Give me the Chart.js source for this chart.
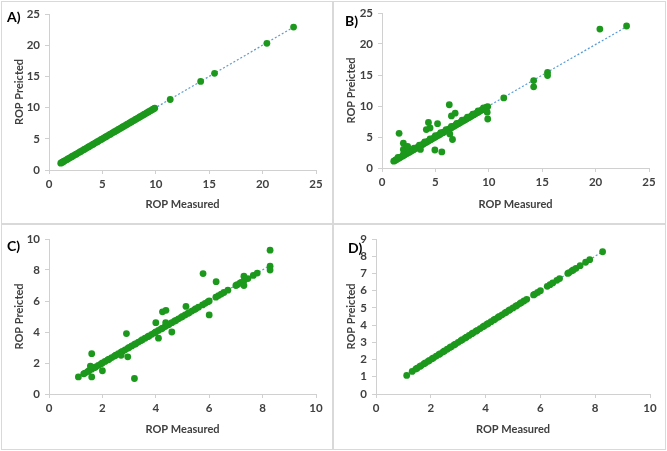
<!DOCTYPE html>
<html>
<head>
<meta charset="utf-8">
<script src="https://cdn.jsdelivr.net/npm/chart.js@4/dist/chart.umd.min.js"></script>
<style>
body { margin: 0; background: #fff; width: 667px; height: 451px; position: relative; overflow: hidden; }
.panel { position: absolute; box-sizing: border-box; border: 1px solid #d9d9d9; }
canvas { position: absolute; }
</style>
</head>
<body>
<div class="panel" style="left:1px;top:1px;width:332px;height:223px"></div>
<div class="panel" style="left:333px;top:1px;width:333px;height:223px"></div>
<div class="panel" style="left:1px;top:224px;width:332px;height:226px"></div>
<div class="panel" style="left:333px;top:224px;width:333px;height:226px"></div>
<canvas id="chartA" width="331" height="222" style="left:1px;top:1px"></canvas>
<canvas id="chartB" width="332" height="222" style="left:333px;top:1px"></canvas>
<canvas id="chartC" width="331" height="225" style="left:1px;top:224px"></canvas>
<canvas id="chartD" width="332" height="225" style="left:333px;top:224px"></canvas>
<script>
// panel A
var measuredA = [1.1, 1.2, 1.3, 1.4, 1.55, 1.7, 1.8, 1.95, 2.1, 2.2, 2.35, 2.5, 2.6, 2.75, 2.9, 3.0, 3.15, 3.3, 3.4, 3.55, 3.7, 3.8, 3.95, 4.1, 4.2, 4.35, 4.5, 4.6, 4.75, 4.9, 5.0, 5.15, 5.3, 5.4, 5.55, 5.7, 5.8, 5.95, 6.1, 6.2, 6.35, 6.5, 6.6, 6.75, 6.9, 7.0, 7.15, 7.3, 7.4, 7.55, 7.7, 7.8, 7.95, 8.1, 8.2, 8.35, 8.5, 8.6, 8.75, 8.9, 9.0, 9.15, 9.3, 9.4, 9.55, 9.7, 9.8, 9.9, 11.35, 14.2, 15.5, 20.4, 22.9];
var predictedA = [1.1, 1.2, 1.3, 1.4, 1.55, 1.7, 1.8, 1.95, 2.1, 2.2, 2.35, 2.5, 2.6, 2.75, 2.9, 3.0, 3.15, 3.3, 3.4, 3.55, 3.7, 3.8, 3.95, 4.1, 4.2, 4.35, 4.5, 4.6, 4.75, 4.9, 5.0, 5.15, 5.3, 5.4, 5.55, 5.7, 5.8, 5.95, 6.1, 6.2, 6.35, 6.5, 6.6, 6.75, 6.9, 7.0, 7.15, 7.3, 7.4, 7.55, 7.7, 7.8, 7.95, 8.1, 8.2, 8.35, 8.5, 8.6, 8.75, 8.9, 9.0, 9.15, 9.3, 9.4, 9.55, 9.7, 9.8, 9.9, 11.3, 14.2, 15.5, 20.3, 22.9];
var trendA = { x: [1.1, 22.9], y: [1.1, 22.9] };

// panel B
var measuredB = [1.1, 1.2, 1.3, 1.4, 1.55, 1.7, 1.8, 1.95, 2.1, 2.2, 2.35, 2.5, 2.6, 2.75, 2.9, 3.0, 3.15, 3.3, 3.4, 3.55, 3.7, 3.8, 3.95, 4.1, 4.2, 4.35, 4.5, 4.6, 4.75, 4.9, 5.0, 5.15, 5.3, 5.4, 5.55, 5.7, 5.8, 5.95, 6.1, 6.2, 6.35, 6.5, 6.6, 6.75, 6.9, 7.0, 7.15, 7.3, 7.4, 7.55, 7.7, 7.8, 7.95, 8.1, 8.2, 8.35, 8.5, 8.6, 8.75, 8.9, 9.0, 9.15, 9.3, 9.4, 9.55, 9.7, 9.8, 9.9,
  1.5, 2.0, 2.5, 3.0, 3.5, 4.0, 4.5, 5.0, 5.5, 6.0, 6.5, 7.0, 7.5, 8.0, 8.5, 9.0, 9.5,
  1.6, 2.0, 2.0, 2.4, 3.6, 4.15, 4.35, 4.5, 4.95, 5.2, 5.6, 6.3, 6.5, 6.85, 6.35, 6.6, 9.85, 9.9, 11.4, 14.2, 14.2, 15.5, 15.5, 20.4, 22.9];
var predictedB = [1.1, 1.2, 1.3, 1.4, 1.55, 1.7, 1.8, 1.95, 2.1, 2.2, 2.35, 2.5, 2.6, 2.75, 2.9, 3.0, 3.15, 3.3, 3.4, 3.55, 3.7, 3.8, 3.95, 4.1, 4.2, 4.35, 4.5, 4.6, 4.75, 4.9, 5.0, 5.15, 5.3, 5.4, 5.55, 5.7, 5.8, 5.95, 6.1, 6.2, 6.35, 6.5, 6.6, 6.75, 6.9, 7.0, 7.15, 7.3, 7.4, 7.55, 7.7, 7.8, 7.95, 8.1, 8.2, 8.35, 8.5, 8.6, 8.75, 8.9, 9.0, 9.15, 9.3, 9.4, 9.55, 9.7, 9.8, 9.9,
  1.7, 2.2, 2.7, 3.2, 3.7, 4.2, 4.7, 5.2, 5.7, 6.2, 6.7, 7.2, 7.7, 8.2, 8.7, 9.2, 9.7,
  5.6, 4.0, 3.0, 3.5, 3.0, 6.2, 7.35, 6.45, 2.9, 7.15, 2.6, 10.2, 8.4, 8.85, 5.5, 4.6, 9.0, 7.9, 11.3, 14.1, 13.1, 15.4, 14.9, 22.4, 22.9];
var trendB = { x: [1.1, 22.9], y: [1.2, 22.8] };

// panel C
var measuredC = [1.3, 1.35, 1.45, 1.5, 1.6, 1.7, 1.75, 1.85, 1.95, 2.0, 2.1, 2.2, 2.25, 2.35, 2.45, 2.5, 2.6, 2.7, 2.75, 2.85, 2.95, 3.0, 3.1, 3.2, 3.25, 3.35, 3.45, 3.5, 3.6, 3.7, 3.75, 3.85, 3.95, 4.0, 4.1, 4.2, 4.25, 4.35, 4.45, 4.5, 4.6, 4.7, 4.75, 4.85, 4.95, 5.0, 5.1, 5.2, 5.25, 5.35, 5.45, 5.5, 5.6,
  5.75, 5.85, 5.95, 6.0, 6.25, 6.35, 6.45, 6.55, 6.7, 7.0, 7.05, 7.15, 7.2, 7.3, 7.45, 7.65, 7.8, 8.28,
  1.1, 1.6, 1.6, 1.55, 2.0, 2.7, 2.9, 2.95, 3.2, 4.0, 4.1, 4.25, 4.38, 4.37, 4.6, 5.13, 5.77, 6.0, 6.26, 7.3, 7.3, 8.28, 8.28];
var predictedC = [1.3, 1.35, 1.45, 1.5, 1.6, 1.7, 1.75, 1.85, 1.95, 2.0, 2.1, 2.2, 2.25, 2.35, 2.45, 2.5, 2.6, 2.7, 2.75, 2.85, 2.95, 3.0, 3.1, 3.2, 3.25, 3.35, 3.45, 3.5, 3.6, 3.7, 3.75, 3.85, 3.95, 4.0, 4.1, 4.2, 4.25, 4.35, 4.45, 4.5, 4.6, 4.7, 4.75, 4.85, 4.95, 5.0, 5.1, 5.2, 5.25, 5.35, 5.45, 5.5, 5.6,
  5.75, 5.85, 5.95, 6.0, 6.25, 6.35, 6.45, 6.55, 6.7, 7.0, 7.05, 7.15, 7.2, 7.3, 7.45, 7.65, 7.8, 8.25,
  1.1, 2.6, 1.1, 1.8, 1.5, 2.5, 3.9, 2.4, 1.0, 4.6, 3.6, 5.3, 5.4, 4.6, 4.0, 5.65, 7.77, 5.1, 7.25, 7.6, 7.0, 9.28, 8.0];
var trendC = { x: [1.1, 8.3], y: [1.2, 8.3] };

// panel D
var measuredD = [1.12, 1.32, 1.45, 1.5, 1.6, 1.65, 1.75, 1.8, 1.9, 1.95, 2.05, 2.1, 2.2, 2.3, 2.35, 2.45, 2.5, 2.6, 2.7, 2.75, 2.85, 2.9, 3.0, 3.1, 3.15, 3.25, 3.3, 3.4, 3.5, 3.55, 3.65, 3.7, 3.8, 3.9, 3.95, 4.05, 4.1, 4.2, 4.3, 4.35, 4.45, 4.5, 4.6, 4.7, 4.75, 4.85, 4.9, 5.0, 5.1, 5.15, 5.25, 5.3, 5.4, 5.5,
  5.75, 5.8, 5.9, 6.0, 6.25, 6.35, 6.45, 6.6, 6.7, 7.0, 7.05, 7.15, 7.2, 7.3, 7.45, 7.65, 7.8, 8.27];
var predictedD = [1.08, 1.31, 1.45, 1.5, 1.6, 1.65, 1.75, 1.8, 1.9, 1.95, 2.05, 2.1, 2.2, 2.3, 2.35, 2.45, 2.5, 2.6, 2.7, 2.75, 2.85, 2.9, 3.0, 3.1, 3.15, 3.25, 3.3, 3.4, 3.5, 3.55, 3.65, 3.7, 3.8, 3.9, 3.95, 4.05, 4.1, 4.2, 4.3, 4.35, 4.45, 4.5, 4.6, 4.7, 4.75, 4.85, 4.9, 5.0, 5.1, 5.15, 5.25, 5.3, 5.4, 5.5,
  5.75, 5.8, 5.9, 6.0, 6.25, 6.35, 6.45, 6.6, 6.7, 7.0, 7.05, 7.15, 7.2, 7.3, 7.45, 7.65, 7.8, 8.26];
var trendD = { x: [1.1, 8.3], y: [1.1, 8.3] };

var tickFont = { family: 'Lato', size: 11.5, weight: 'bold' };
var titleFont = { family: 'Lato', size: 11, weight: 'bold' };
var axisGray = '#d0d0d0';
var textGray = '#404040';

var panelLabel = {
  id: 'panelLabel',
  afterDraw: function (chart, args, opts) {
    var c = chart.ctx;
    c.save();
    c.font = 'bold 14px Lato';
    c.fillStyle = '#000';
    c.textBaseline = 'middle';
    c.fillText(opts.text, opts.x, opts.y);
    c.restore();
  }
};

function zip(xs, ys) {
  return xs.map(function (x, i) { return { x: x, y: ys[i] }; });
}

function makeChart(id, measured, predicted, trend, xMax, xStep, yMax, yStep, box, label) {
  return new Chart(document.getElementById(id), {
    type: 'scatter',
    data: {
      datasets: [{
        data: zip(measured, predicted),
        backgroundColor: '#1c981c',
        borderWidth: 0,
        pointRadius: 3.4
      }, {
        type: 'line',
        data: zip(trend.x, trend.y),
        borderColor: '#5b9bd5',
        borderWidth: 1.2,
        borderDash: [2, 2],
        pointRadius: 0,
        fill: false
      }]
    },
    options: {
      responsive: false,
      animation: false,
      events: [],
      layout: { padding: { left: 0, top: box.top, right: box.right, bottom: 0 } },
      plugins: {
        legend: { display: false },
        tooltip: { enabled: false },
        panelLabel: label
      },
      scales: {
        x: {
          type: 'linear', min: 0, max: xMax,
          ticks: { stepSize: xStep, color: textGray, font: tickFont, padding: 3, maxRotation: 0 },
          grid: { drawOnChartArea: false, drawTicks: true, tickLength: 4, color: axisGray },
          border: { color: axisGray },
          title: { display: true, text: 'ROP Measured', color: textGray, font: titleFont, padding: { top: 0, bottom: box.xTitle } },
          afterFit: function (s) { s.height = box.xh; }
        },
        y: {
          type: 'linear', min: 0, max: yMax,
          ticks: { stepSize: yStep, color: textGray, font: tickFont, padding: 5 },
          grid: { drawOnChartArea: false, drawTicks: true, tickLength: 4, color: axisGray },
          border: { color: axisGray },
          title: { display: true, text: 'ROP Preicted', color: textGray, font: titleFont, padding: { top: 12, bottom: 0 } },
          afterFit: function (s) { s.width = box.yw; }
        }
      }
    },
    plugins: [panelLabel]
  });
}

makeChart('chartA', measuredA, predictedA, trendA, 25, 5, 25, 5,
  { yw: 48, xh: 53, top: 13, right: 16, xTitle: 12 }, { text: 'A)', x: 6, y: 16 });
makeChart('chartB', measuredB, predictedB, trendB, 25, 5, 25, 5,
  { yw: 49, xh: 55, top: 12, right: 16, xTitle: 12 }, { text: 'B)', x: 12, y: 20 });
makeChart('chartC', measuredC, predictedC, trendC, 10, 2, 10, 2,
  { yw: 48, xh: 55, top: 15, right: 16, xTitle: 13 }, { text: 'C)', x: 6, y: 22 });
makeChart('chartD', measuredD, predictedD, trendD, 10, 2, 9, 1,
  { yw: 43, xh: 55, top: 15, right: 15, xTitle: 13 }, { text: 'D)', x: 15, y: 24 });
</script>
</body>
</html>
